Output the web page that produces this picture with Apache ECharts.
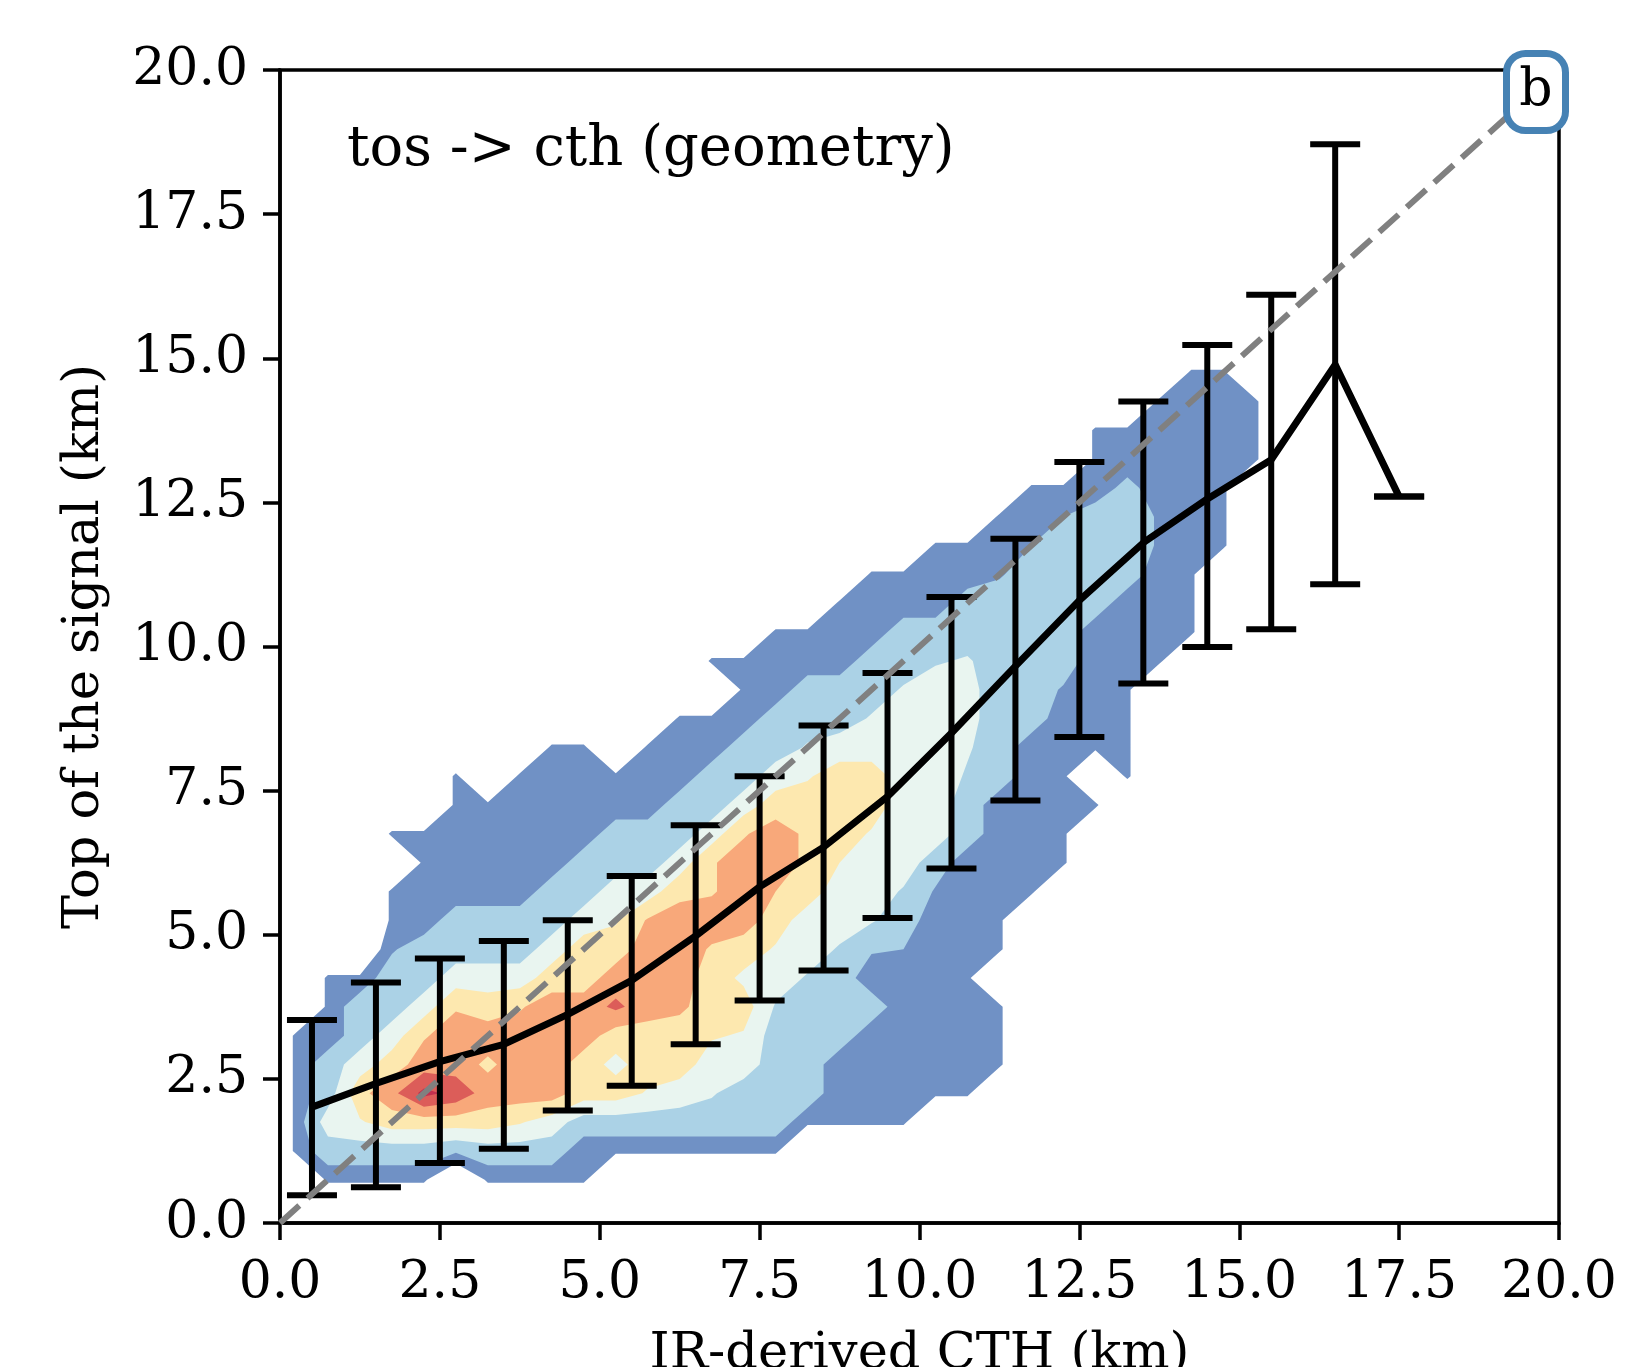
<!DOCTYPE html>
<html><head><meta charset="utf-8">
<script src="https://cdn.jsdelivr.net/npm/echarts@6/dist/echarts.min.js"></script>
<style>html,body{margin:0;padding:0;background:#fff}#c{width:1636px;height:1367px}</style>
</head><body><div id="c"></div>
<script>
// ---- data ----
const xBins   = [0.5,1.5,2.5,3.5,4.5,5.5,6.5,7.5,8.5,9.5,10.5,11.5,12.5,13.5,14.5,15.5,16.5,17.5];
const meanTop = [2.01,2.42,2.8,3.1,3.62,4.21,4.98,5.83,6.52,7.4,8.5,9.66,10.8,11.8,12.56,13.24,14.89,12.6];
const errLow  = [0.48,0.62,1.04,1.29,1.95,2.38,3.1,3.86,4.38,5.29,6.15,7.33,8.43,9.36,9.99,10.3,11.08,12.6];
const errHigh = [3.52,4.17,4.59,4.89,5.25,6.02,6.9,7.75,8.63,9.54,10.86,11.87,13.2,14.25,15.23,16.1,18.71,12.6];
const axisTicks = [0,2.5,5,7.5,10,12.5,15,17.5,20];
const identityLine = [[0,0],[20,20]];

// gridded point density (level index) at x = 0.25 + 0.5*i, y = 0.25 + 0.5*j
// each column: [first row index, values...]
const gridOrigin = 0.25, gridStep = 0.5;
const densityCols = [
 [2, 1,1,1,1,1],
 [1, 1,2,3,2,2,1,1,1],
 [1, 1,2,3.4,4.2,3,2,2,1],
 [1, 1,2,4,5.2,4,3,2,2,1.4,1,1,0,1],
 [1, 1,2,4,6.8,5,4.4,3,2,2,1,1,1,1],
 [1, 0,1.6,4,6.2,5,5,4.4,3,2,2,1,1,1,1,1],
 [1, 1,2,4,5,4.3,5,4,3,2,2,1,1,1,1],
 [1, 1,2,3.6,5,5,5,4.4,3,2,2,1,1,1,1,1],
 [1, 1,2,3,5,5,5,5,4,3,2,2,1,1,1,1,1],
 [1, 1,1,2,4,4,5,5,4,4,3,2,2,1,1,1,1],
 [2, 1,2,4,3.2,4,5.7,5,4,3.4,3,2,2,1,1],
 [2, 1,2,3.4,4,4,5,5,5,4.6,3,2,2,1,1,1],
 [2, 1,2,3,4,4,4.7,5,5,5,4.2,3,2,2,1,1,1],
 [2, 1,2,2.6,3,3.6,4,4,4.4,5,4.4,4.4,3,2,2,1,1,0,1],
 [2, 1,2,2,3,3.4,4,3.3,4,5,5,5,4.4,3,2,2,1,1,1],
 [2, 1,2,2,2,2,2.4,3,3.4,4,4.5,5,5,4,3,2,2,1,1,1],
 [3, 1,2,2,2,2,2.4,3,3,4,4.3,4.3,4,3.4,2.6,2,2,1,1],
 [3, 1,1,1,2,2,2,2.4,3,3,3.5,4,4,4,3,2,2,1,1,1],
 [3, 1,1,1,1,2,1,1.6,2.6,3,3,3.4,4,4,3,2.6,2,2,1,1,1],
 [3, 1,1,1,1,1,1,1.5,2,2.4,3,3,3,3,3,3,2.6,2,2,1,1],
 [4, 1,1,1,1,1,1,1,1.4,2,3,3,3,3,3,3,2.4,2,1,1,1],
 [4, 1,1,1,1,1,1,1,1,1,2,2,2.4,2.6,2.8,2.8,2.6,2,2,1,1],
 [5, 1,1,1,0,1,1,1,1,1,1,2,2,2,2,2,2,2,1.4,1,1],
 [11, 1,1,1,1,1,1,2,2,2,2,2,2,1.5,1,1],
 [12, 1,1,1,1,1,1,1.4,2,2,2,2,2,1.5,1],
 [14, 1,0,1,1,1,1,1,2,2,2,2,1,1,1],
 [15, 1,1,1,1,1,1,1,2,2,2,1.8,1,1],
 [19, 1,1,1,1,1.4,1.4,1,1,1,1],
 [20, 1,1,1,1,1,1,1,1,1,1],
 [23, 1,1,1,1,1,1,1],
 [26, 1,1,1]
];
const levelThresholds = [0.9, 1.5, 2.5, 3.5, 4.5, 5.5, 6.5];
const levelColors = ['#7091c5','#abd2e6','#e9f5f0','#fde8af','#f8a87a','#dc5d59','#c2304f'];

// ---- helpers ----
function val(i, j) {
  const c = densityCols[i];
  if (!c) return 0;
  const k = j - c[0] + 1;
  return (k >= 1 && k < c.length) ? c[k] : 0;
}
const nCols = densityCols.length, nRows = 34;

function renderLevel(params, api) {
  const k = api.value(0);
  const t = levelThresholds[k];
  let d = '';
  const toPx = p => api.coord([gridOrigin + gridStep * p[0], gridOrigin + gridStep * p[1]]);
  const addPoly = pts => {
    pts.forEach((p, n) => {
      const q = toPx(p);
      d += (n ? 'L' : 'M') + q[0].toFixed(2) + ' ' + q[1].toFixed(2);
    });
    d += 'Z';
  };
  for (let i = -1; i < nCols; i++) {
    for (let j = -1; j < nRows; j++) {
      const cs = [[i, j], [i + 1, j], [i + 1, j + 1], [i, j + 1]];
      const vs = cs.map(c => val(c[0], c[1]));
      const up = vs.map(v => v >= t);
      if (!up.some(Boolean)) continue;
      const cross = m => {
        const a = cs[m], b = cs[(m + 1) % 4], va = vs[m], vb = vs[(m + 1) % 4];
        const f = (t - va) / (vb - va);
        return [a[0] + f * (b[0] - a[0]), a[1] + f * (b[1] - a[1])];
      };
      const saddle = up[0] === up[2] && up[1] === up[3] && up[0] !== up[1];
      const centre = (vs[0] + vs[1] + vs[2] + vs[3]) / 4;
      if (saddle && centre < t) {
        for (let m = 0; m < 4; m++) {
          if (!up[m]) continue;
          addPoly([cross((m + 3) % 4), cs[m], cross(m)]);
        }
        continue;
      }
      const pts = [];
      for (let m = 0; m < 4; m++) {
        if (up[m]) pts.push(cs[m]);
        if (up[m] !== up[(m + 1) % 4]) pts.push(cross(m));
      }
      addPoly(pts);
    }
  }
  return { type: 'path', shape: { pathData: d }, style: { fill: levelColors[k] }, silent: true };
}

function renderErr(params, api) {
  const x = api.value(0), lo = api.value(1), hi = api.value(2);
  const p1 = api.coord([x, lo]), p2 = api.coord([x, hi]);
  const hw = 25;
  const st = { stroke: '#000', lineWidth: 6 };
  return { type: 'group', children: [
    { type: 'line', shape: { x1: p1[0], y1: p1[1], x2: p2[0], y2: p2[1] }, style: st },
    { type: 'line', shape: { x1: p1[0] - hw, y1: p1[1], x2: p1[0] + hw, y2: p1[1] }, style: st },
    { type: 'line', shape: { x1: p2[0] - hw, y1: p2[1], x2: p2[0] + hw, y2: p2[1] }, style: st }
  ]};
}

const FONT = 'DejaVu Serif';
const fmt = v => v.toFixed(1);
function axisCommon() {
  return {
    type: 'value', min: 0, max: 20, interval: 2.5,
    axisLine: { show: true, onZero: false, lineStyle: { color: '#000', width: 3.5 } },
    axisTick: { show: true, inside: false, length: 17, lineStyle: { color: '#000', width: 3.5 } },
    axisLabel: { fontFamily: FONT, fontSize: 52, color: '#000', formatter: fmt, showMinLabel: true, showMaxLabel: true },
    splitLine: { show: false },
    nameLocation: 'middle',
    nameTextStyle: { fontFamily: FONT, fontSize: 51, color: '#000' }
  };
}
const xAx = axisCommon(); xAx.name = 'IR-derived CTH (km)'; xAx.nameGap = 106; xAx.axisLabel.margin = 34;
const yAx = axisCommon(); yAx.name = 'Top of the signal (km)'; yAx.nameGap = 170; yAx.axisLabel.margin = 32;

const chart = echarts.init(document.getElementById('c'), null, { renderer: 'canvas' });
chart.setOption({
  animation: false,
  backgroundColor: '#fff',
  grid: { left: 280, top: 70, right: 77, bottom: 144, containLabel: false, outerBoundsMode: 'none',
          show: true, borderColor: '#000', borderWidth: 3.5, backgroundColor: 'transparent' },
  xAxis: xAx,
  yAxis: yAx,
  series: [
    { type: 'custom', name: 'density', coordinateSystem: 'cartesian2d', renderItem: renderLevel,
      data: levelThresholds.map((t, k) => [k, 0]), z: 1, clip: true, silent: true },
    { type: 'custom', name: 'spread', renderItem: renderErr,
      data: xBins.map((x, i) => [x, errLow[i], errHigh[i]]), z: 3, silent: true },
    { type: 'line', name: 'mean', data: xBins.map((x, i) => [x, meanTop[i]]), showSymbol: false, symbol: 'none',
      lineStyle: { color: '#000', width: 7, join: 'round' }, z: 4, silent: true },
    { type: 'line', name: 'one-to-one', data: identityLine, showSymbol: false, symbol: 'none',
      lineStyle: { color: '#808080', width: 6, type: [26, 11] }, z: 5, silent: true }
  ],
  graphic: [
    { type: 'text', x: 347, y: 150, z: 20,
      style: { text: 'tos -> cth (geometry)', fontFamily: FONT, fontSize: 56, fill: '#000', align: 'left', verticalAlign: 'middle' } },
    { type: 'rect', z: 20, shape: { x: 1506.5, y: 53.5, width: 59, height: 77, r: 19 },
      style: { fill: '#fff', stroke: '#4682b4', lineWidth: 7 } },
    { type: 'text', x: 1536, y: 91, z: 21,
      style: { text: 'b', fontFamily: FONT, fontSize: 52, fill: '#000', align: 'center', verticalAlign: 'middle' } }
  ]
});
</script>
</body></html>
